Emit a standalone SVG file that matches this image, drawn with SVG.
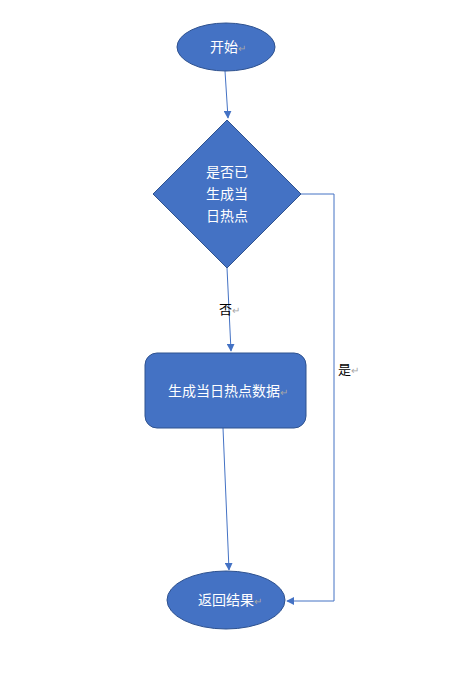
<svg xmlns="http://www.w3.org/2000/svg" width="454" height="694" viewBox="0 0 454 694">
<defs>
<style>
.shape{fill:#4472C4;stroke:#2F528F;stroke-width:1}
.t{font-family:"Liberation Sans","Noto Sans CJK SC",sans-serif;font-size:14px;fill:#ffffff;text-anchor:middle}
.lbl{font-family:"Liberation Sans","Noto Sans CJK SC",sans-serif;font-size:13px;fill:#000000}
.pm{fill:#A6A6A6;font-size:10px}
.line{fill:none;stroke:#4472C4;stroke-width:1}
</style>
<marker id="ah" viewBox="0 0 10 10" refX="9" refY="5" markerWidth="8" markerHeight="8" orient="auto" markerUnits="userSpaceOnUse">
<path d="M0,0 L10,5 L0,10 z" fill="#4472C4"/>
</marker>
</defs>
<rect width="454" height="694" fill="#ffffff"/>
<g id="connectors">
<line class="line" x1="225" y1="71" x2="228" y2="118" marker-end="url(#ah)"/>
<line class="line" x1="227" y1="268" x2="231" y2="351" marker-end="url(#ah)"/>
<line class="line" x1="223" y1="428" x2="229" y2="570" marker-end="url(#ah)"/>
<polyline class="line" points="301,194 334,194 334,601 287,601" marker-end="url(#ah)"/>
<text class="lbl" x="219" y="314">否<tspan class="pm">↵</tspan></text>
<text class="lbl" x="338" y="374">是<tspan class="pm">↵</tspan></text>
</g>
<g id="start">
<ellipse class="shape" cx="226" cy="47" rx="49" ry="24"/>
<text class="t" x="228" y="52">开始<tspan class="pm">↵</tspan></text>
</g>
<g id="decision">
<polygon class="shape" points="227,120 301,194 227,268 153,194"/>
<text class="t" x="227" y="177">是否已</text>
<text class="t" x="227" y="199">生成当</text>
<text class="t" x="227" y="221">日热点</text>
</g>
<g id="generate">
<rect class="shape" x="145" y="353" width="161" height="75" rx="12" ry="12"/>
<text class="t" x="228" y="396">生成当日热点数据<tspan class="pm">↵</tspan></text>
</g>
<g id="end">
<ellipse class="shape" cx="226" cy="600" rx="59" ry="29"/>
<text class="t" x="230" y="605">返回结果<tspan class="pm">↵</tspan></text>
</g>
</svg>
